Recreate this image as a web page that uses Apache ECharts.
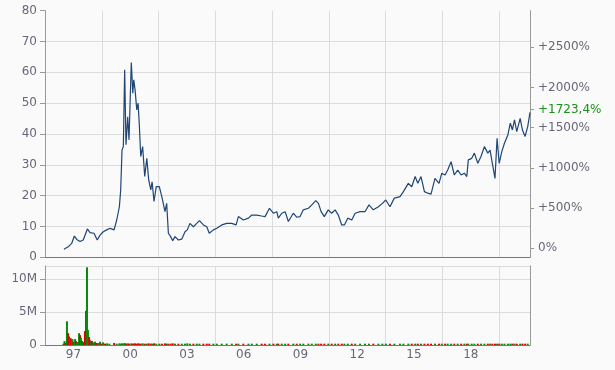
<!DOCTYPE html>
<html><head><meta charset="utf-8">
<script src="https://cdn.jsdelivr.net/npm/echarts@6/dist/echarts.min.js"></script>
<style>html,body{margin:0;padding:0;background:#fafafa}#c{width:615px;height:370px}</style>
</head><body><div id="c"></div>
<script>
// price readings: time (decimal year) and price
const priceT = [1996.50,1996.61,1996.73,1996.91,1997.05,1997.18,1997.35,1997.52,1997.74,1997.88,
1998.09,1998.26,1998.41,1998.58,1998.76,1998.94,1999.15,1999.29,1999.43,1999.50,
1999.57,1999.64,1999.71,1999.78,1999.87,1999.94,2000.06,2000.14,2000.19,2000.26,
2000.35,2000.42,2000.48,2000.56,2000.66,2000.77,2000.88,2000.98,2001.09,2001.16,
2001.26,2001.38,2001.54,2001.68,2001.84,2001.93,2002.02,2002.14,2002.25,2002.37,
2002.55,2002.73,2002.90,2003.02,2003.16,2003.34,2003.52,2003.66,2003.87,2004.05,
2004.18,2004.40,2004.58,2004.84,2005.10,2005.37,2005.60,2005.72,2005.98,2006.25,
2006.43,2006.69,2006.95,2007.13,2007.36,2007.57,2007.75,2007.83,2008.01,2008.19,
2008.36,2008.62,2008.80,2008.98,2009.15,2009.42,2009.60,2009.81,2009.95,2010.09,
2010.26,2010.47,2010.65,2010.83,2011.00,2011.18,2011.32,2011.50,2011.71,2011.89,
2012.15,2012.41,2012.62,2012.85,2013.12,2013.33,2013.51,2013.73,2013.96,2014.26,
2014.44,2014.70,2014.88,2015.06,2015.20,2015.37,2015.55,2015.73,2015.90,2016.11,
2016.32,2016.47,2016.64,2016.78,2016.96,2017.13,2017.31,2017.49,2017.66,2017.79,
2017.87,2018.05,2018.19,2018.37,2018.54,2018.72,2018.90,2019.02,2019.14,2019.28,
2019.39,2019.50,2019.64,2019.78,2019.96,2020.09,2020.20,2020.31,2020.43,2020.61,
2020.73,2020.87,2021.01,2021.13];
const price = [2.6,3.0,3.4,4.5,6.9,5.8,5.1,5.6,9.2,8.0,
7.8,5.6,7.2,8.3,8.9,9.4,8.9,12.1,16.4,21.8,
34.8,35.9,60.8,36.5,45.6,38.1,63.2,53.2,57.6,54.3,
47.8,50.0,43.5,32.7,35.9,26.2,32.1,25.1,21.9,24.5,
18.1,22.9,22.9,19.5,14.8,17.5,7.8,6.7,5.4,6.7,
5.6,5.9,8.3,8.9,11.0,9.9,11.0,11.9,10.5,9.9,
7.8,8.9,9.4,10.5,11.0,11.0,10.5,13.2,12.1,12.7,
13.7,13.7,13.4,13.2,15.9,14.3,14.8,12.7,14.3,14.8,
11.6,14.3,13.0,13.2,15.4,15.9,17.0,18.4,17.5,14.8,
13.2,15.4,14.3,15.4,13.7,10.5,10.5,12.7,12.1,14.3,
14.8,14.8,17.0,15.4,16.4,17.5,18.6,16.4,19.2,19.7,
21.3,24.0,22.9,26.2,24.0,26.2,21.3,20.8,20.5,25.6,
24.0,27.3,26.7,28.3,31.0,26.7,28.3,26.7,27.3,26.2,
31.6,32.1,33.8,30.5,32.7,35.9,33.8,34.8,30.5,25.6,
38.6,30.5,34.3,37.0,39.7,43.5,41.3,44.6,40.8,45.1,
41.3,39.2,42.4,47.0];

// early volume bars (millions), 1 = up (green), 0 = down (red)
const volT = [1996.47,1996.53,1996.58,1996.66,1996.72,1996.77,1996.82,1996.87,1996.95,1997.01,
1997.09,1997.14,1997.19,1997.24,1997.30,1997.35,1997.40,1997.46,1997.51,1997.56,
1997.61,1997.67,1997.72,1997.77,1997.83,1997.88,1997.93,1997.98,1998.06,1998.14,
1998.20,1998.30,1998.41,1998.46,1998.57,1998.67,1998.78,1998.90];
const vol = [0.2,0.6,0.3,3.6,1.8,1.3,1.0,1.0,0.9,0.5,
0.9,0.6,0.3,0.45,1.8,1.5,1.1,0.6,0.45,0.3,
2.1,5.2,11.8,2.3,1.2,0.7,0.6,0.6,0.4,0.5,
0.3,0.3,0.5,0.2,0.4,0.2,0.25,0.2];
const volUp = [1,1,0,1,0,0,1,0,1,0,
1,0,1,1,1,0,1,0,1,0,
0,0,1,1,0,0,1,0,1,1,
0,1,1,0,1,0,1,1];
// later volume (millions), at price readings from 1999.15 on
const volLate = [0.3,0.2,0.25,0.2,0.25,0.2,0.3,0.2,0.25,0.2,
0.25,0.2,0.2,0.25,0.2,0.25,0.2,0.2,0.25,0.2,
0.2,0.25,0.2,0.2,0.25,0.2,0.2,0.2,0.25,0.2,
0.2,0.2,0.25,0.2,0.2,0.2,0.2,0.25,0.2,0.2,
0.2,0.2,0.2,0.2,0.2,0.2,0.2,0.2,0.2,0.2,
0.2,0.2,0.2,0.2,0.2,0.2,0.2,0.2,0.2,0.2,
0.2,0.2,0.2,0.2,0.2,0.2,0.2,0.2,0.2,0.2,
0.2,0.2,0.2,0.2,0.2,0.2,0.2,0.2,0.2,0.2,
0.2,0.2,0.2,0.2,0.2,0.2,0.2,0.2,0.2,0.2,
0.2,0.2,0.2,0.2,0.2,0.2,0.2,0.2,0.2,0.2,
0.2,0.2,0.2,0.2,0.2,0.2,0.2,0.2,0.2,0.2,
0.2,0.2,0.2,0.2,0.2,0.2,0.2,0.2,0.2,0.2,
0.2,0.2,0.2,0.2,0.2,0.2,0.2,0.2,0.2,0.2,
0.2,0.2,0.2,0.2,0.2,0.2,0.2];

const yearLabels = [1997,2000,2003,2006,2009,2012,2015,2018];
const pctTicks = [0,500,1000,1500,2000,2500];
const lastPct = 1723.4;
const priceTicksMax = 80;

const X0 = 1998.5;   // vertical gridlines every 3 years from mid-1998
const XMIN = 1995.5, XMAX = 2021.13;
const FONT = 'DejaVu Sans';
const LBL = '#67677a';
const UP = '#0a8a0a', DOWN = '#e00000';

const lineData = priceT.map((t,i)=>[t - X0, price[i]]);
const barData = [];
volT.forEach((t,i)=>barData.push({value:[t - X0, vol[i]], itemStyle:{color: volUp[i]?UP:DOWN}}));
const lateStart = priceT.findIndex(t=>t>=1999.1);
for (let i=lateStart, k=0; i<priceT.length && k<volLate.length; i++, k++) {
  const up = price[i] >= price[i-1];
  barData.push({value:[priceT[i]-X0, volLate[k]], itemStyle:{color: up?UP:DOWN}});
}

const splitColors = [];
for (let v=0; v<=priceTicksMax; v+=10) splitColors.push(v===priceTicksMax?'rgba(0,0,0,0)':'#dcdcdc');

const chart = echarts.init(document.getElementById('c'));
chart.setOption({
  backgroundColor:'#fafafa',
  animation:false,
  textStyle:{fontFamily:FONT},
  grid:[
    {left:45, right:85, top:10.7, height:246.6},
    {left:45, right:85, top:266, height:79}
  ],
  xAxis:[
    {type:'value', gridIndex:0, min:XMIN-X0, max:XMAX-X0, interval:3,
     axisLine:{show:true, onZero:false, lineStyle:{color:'#777'}}, axisTick:{show:false}, axisLabel:{show:false},
     splitLine:{show:true, lineStyle:{color:'#dcdcdc'}}},
    {type:'value', gridIndex:1, min:XMIN-X0, max:XMAX-X0, interval:3,
     axisLine:{show:true, onZero:false, lineStyle:{color:'#777'}}, axisTick:{show:false},
     axisLabel:{show:true, customValues: yearLabels.map(y=>y-X0), margin:4, color:LBL, fontSize:12, fontFamily:FONT,
       formatter:v=>String(Math.round(v+X0)%100).padStart(2,'0')},
     splitLine:{show:true, lineStyle:{color:'#dcdcdc'}}}
  ],
  yAxis:[
    {type:'value', gridIndex:0, min:0, max:priceTicksMax, interval:10, position:'left',
     axisLine:{show:true, onZero:false, lineStyle:{color:'#999'}}, axisTick:{show:true, length:5, lineStyle:{color:'#999'}},
     axisLabel:{color:LBL, fontSize:12, fontFamily:FONT, margin:8},
     splitLine:{show:true, lineStyle:{color:splitColors}}},
    {type:'value', gridIndex:0, min:-112, max:2955, position:'right',
     axisLine:{show:true, onZero:false, lineStyle:{color:'#999'}},
     axisTick:{show:true, length:4, customValues: pctTicks.concat([lastPct]), lineStyle:{color:'#999'}},
     axisLabel:{show:true, customValues: pctTicks.concat([lastPct]), color:LBL, fontSize:12, fontFamily:FONT, margin:8,
       formatter:v=>{
         if (Math.abs(v-lastPct)<0.01) return '{g|+'+String(lastPct).replace('.',',')+'%}';
         return v===0 ? '0%' : '+'+v+'%';
       },
       rich:{g:{color:'#1a8f1a', fontSize:12, fontFamily:FONT}}},
     splitLine:{show:false}},
    {type:'value', gridIndex:1, min:0, max:12, interval:5, position:'left',
     axisLine:{show:true, onZero:false, lineStyle:{color:'#999'}}, axisTick:{show:true, length:5, lineStyle:{color:'#999'}},
     axisLabel:{color:LBL, fontSize:12, fontFamily:FONT, margin:8, showMaxLabel:false,
       formatter:v=>v===0?'0':v+'M'},
     splitLine:{show:true, lineStyle:{color:'#dcdcdc'}}},
    {type:'value', gridIndex:1, min:0, max:12, position:'right',
     axisLine:{show:true, onZero:false, lineStyle:{color:'#999'}}, axisTick:{show:false}, axisLabel:{show:false}, splitLine:{show:false}}
  ],
  series:[
    {type:'line', xAxisIndex:0, yAxisIndex:0, data:lineData, showSymbol:false, symbol:'none',
     lineStyle:{color:'#1f4674', width:1.2}},
    {type:'bar', xAxisIndex:1, yAxisIndex:2, data:barData, barWidth:2}
  ]
});
</script>
</body></html>
